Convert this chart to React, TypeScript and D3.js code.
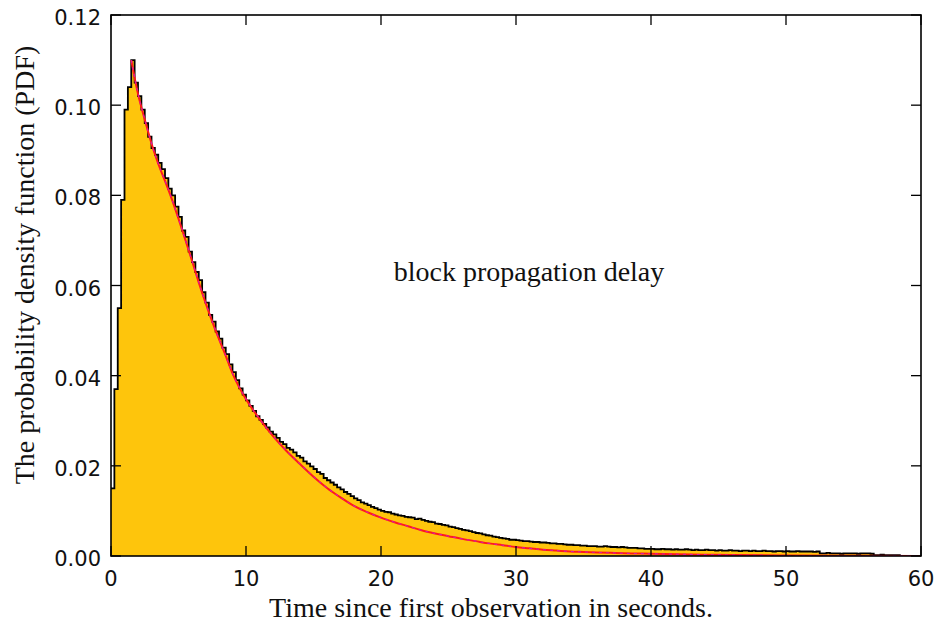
import React from "react";
import * as d3 from "d3";

// Histogram: bin width 0.25 s, starting at 0 s
const binWidth = 0.25;
const histValues: number[] = [
  0.015, 0.037, 0.055, 0.079, 0.099, 0.104, 0.110, 0.105, 0.102, 0.099,
  0.096, 0.093, 0.0905, 0.089, 0.0872, 0.0858, 0.0838, 0.0815, 0.080, 0.0775,
  0.0752, 0.0722, 0.0708, 0.0675, 0.0652, 0.063, 0.0612, 0.0585, 0.0562, 0.0535,
  0.052, 0.0498, 0.0482, 0.0462, 0.0448, 0.0425, 0.0408, 0.039, 0.0372, 0.0358,
  0.0345, 0.0333, 0.0322, 0.031, 0.0302, 0.0293, 0.0285, 0.0276, 0.027, 0.0262,
  0.0253, 0.0248, 0.024, 0.0236, 0.023, 0.0222, 0.0218, 0.021, 0.0205, 0.0199,
  0.0193, 0.0186, 0.0182, 0.0173, 0.0168, 0.0163, 0.0158, 0.0152, 0.0148, 0.0142,
  0.0138, 0.0133, 0.0128, 0.0124, 0.0119, 0.0116, 0.0113, 0.0109, 0.0106, 0.0103,
  0.0100, 0.0098, 0.0097, 0.0094, 0.0092, 0.0090, 0.0089, 0.0087, 0.0086, 0.0085,
  0.0082, 0.0083, 0.0080, 0.0078, 0.0076, 0.0075, 0.0072, 0.0071, 0.0069, 0.0068,
  0.0065, 0.0064, 0.0062, 0.0060, 0.0058, 0.0057, 0.0055, 0.0053, 0.0051, 0.0050,
  0.0048, 0.0046, 0.0045, 0.0043, 0.0042, 0.0040, 0.0039, 0.0038, 0.0036, 0.0036,
  0.0035, 0.0034, 0.0033, 0.0033, 0.0032, 0.0031, 0.0031, 0.0030, 0.0030, 0.0029,
  0.0028, 0.0028, 0.0027, 0.0027, 0.0026, 0.0025, 0.0025, 0.0024, 0.0024, 0.0023,
  0.0023, 0.0022, 0.0022, 0.0022, 0.0021, 0.0021, 0.0022, 0.0021, 0.0020, 0.0020,
  0.0019, 0.0020, 0.0019, 0.0018, 0.0018, 0.0018, 0.0017, 0.0017, 0.0016, 0.0016,
  0.0016, 0.0015, 0.0015, 0.0016, 0.0015, 0.0015, 0.0014, 0.0015, 0.0014, 0.0014,
  0.0015, 0.0014, 0.0013, 0.0014, 0.0013, 0.0013, 0.0014, 0.0013, 0.0013, 0.0012,
  0.0013, 0.0012, 0.0012, 0.0013, 0.0012, 0.0012, 0.0011, 0.0012, 0.0012, 0.0011,
  0.0012, 0.0011, 0.0011, 0.0012, 0.0011, 0.0011, 0.0010, 0.0011, 0.0011, 0.0010,
  0.0011, 0.0010, 0.0010, 0.0011, 0.0010, 0.0010, 0.0010, 0.0010, 0.0009, 0.0010,
  0.0006, 0.0006, 0.0007, 0.0006, 0.0006, 0.0006, 0.0005, 0.0006, 0.0006, 0.0006,
  0.0006, 0.0005, 0.0006, 0.0006, 0.0006, 0.0005, 0.0002, 0.0002, 0.0003, 0.0002,
  0.0002, 0.0002, 0.0002, 0.0002,
];

// Fitted curve: [seconds, density]
const fitCurve: [number, number][] = [
  [1.5, 0.110], [2.0, 0.1025], [2.5, 0.0968], [3.0, 0.0915], [3.5, 0.087],
  [4.0, 0.0832], [4.5, 0.0792], [5.0, 0.0748], [5.5, 0.0702], [6.0, 0.0655],
  [6.5, 0.0607], [7.0, 0.0562], [7.5, 0.052], [8.0, 0.0481], [8.5, 0.0444],
  [9.0, 0.0405], [9.5, 0.0374], [10.0, 0.0348], [10.5, 0.0325], [11.0, 0.0304],
  [12.0, 0.0266], [13.0, 0.0233], [14.0, 0.0204], [15.0, 0.0176], [16.0, 0.0151],
  [17.0, 0.013], [18.0, 0.0111], [19.0, 0.0097], [20.0, 0.0085], [21.0, 0.0075],
  [22.0, 0.0066], [23.0, 0.0057], [24.0, 0.005], [25.0, 0.0044], [26.0, 0.0038],
  [27.0, 0.0033], [28.0, 0.0028], [29.0, 0.0024], [30.0, 0.002], [31.0, 0.0017],
  [32.0, 0.0014], [33.0, 0.0012], [34.0, 0.001], [35.0, 0.0009], [36.0, 0.0008],
  [37.0, 0.0007], [38.0, 0.0006], [40.0, 0.0005], [42.0, 0.0004], [44.0, 0.0003],
  [46.0, 0.0002], [50.0, 0.0001], [55.0, 0.00005], [60.0, 0.00002],
];

const xTicks = [0, 10, 20, 30, 40, 50, 60];
const yTicks = [0, 0.02, 0.04, 0.06, 0.08, 0.1, 0.12];

const xLabel = "Time since first observation in seconds.";
const yLabel = "The probability density function (PDF)";
const annotation = "block propagation delay";

const W = 942;
const H = 628;
const M = { left: 111, right: 921, top: 15, bottom: 556 };

export default function App() {
  const x = d3.scaleLinear().domain([0, 60]).range([M.left, M.right]);
  const y = d3.scaleLinear().domain([0, 0.12]).range([M.bottom, M.top]);

  const stepPts: [number, number][] = [];
  histValues.forEach((v, i) => {
    const t0 = i * binWidth;
    const t1 = Math.min(60, t0 + binWidth);
    stepPts.push([x(t0), y(v)]);
    stepPts.push([x(t1), y(v)]);
  });
  const outline = d3.line()(stepPts) || "";
  const fillPath =
    `M${x(0)},${y(0)}` +
    stepPts.map((p) => `L${p[0]},${p[1]}`).join("") +
    `L${x(60)},${y(0)}Z`;

  const fitLine =
    d3
      .line<[number, number]>()
      .x((d) => x(d[0]))
      .y((d) => y(d[1]))
      .curve(d3.curveMonotoneX)(fitCurve) || "";

  const tickFont = "'DejaVu Sans', sans-serif";
  const serif = "'Liberation Serif', 'Times New Roman', serif";
  const tl = 10;

  return (
    <svg
      width={W}
      height={H}
      style={{ position: "absolute", left: 0, top: 0, background: "#fff" }}
    >
      <defs>
        <clipPath id="plotClip">
          <rect x={M.left} y={M.top} width={M.right - M.left} height={M.bottom - M.top} />
        </clipPath>
      </defs>
      <g clipPath="url(#plotClip)">
        <path d={fillPath} fill="#FEC50C" stroke="none" />
        <path d={outline} fill="none" stroke="#000" strokeWidth={1.8} strokeLinejoin="miter" />
        <path d={fitLine} fill="none" stroke="#ff1a1a" strokeWidth={2} />
        <path d={fitLine} fill="none" stroke="#d81ba8" strokeWidth={1.1} strokeDasharray="3 4" />
      </g>

      {/* ticks */}
      {xTicks.map((t) => (
        <g key={"x" + t}>
          <line x1={x(t)} x2={x(t)} y1={M.bottom} y2={M.bottom - tl} stroke="#000" strokeWidth={1.3} />
          <line x1={x(t)} x2={x(t)} y1={M.top} y2={M.top + tl} stroke="#000" strokeWidth={1.3} />
          <text
            x={x(t)}
            y={586}
            textAnchor="middle"
            fontFamily={tickFont}
            fontSize={21}
            fill="#111"
          >
            {t}
          </text>
        </g>
      ))}
      {yTicks.map((t) => (
        <g key={"y" + t}>
          <line x1={M.left} x2={M.left + tl} y1={y(t)} y2={y(t)} stroke="#000" strokeWidth={1.3} />
          <line x1={M.right} x2={M.right - tl} y1={y(t)} y2={y(t)} stroke="#000" strokeWidth={1.3} />
          <text
            x={101}
            y={y(t) + 10}
            textAnchor="end"
            fontFamily={tickFont}
            fontSize={21}
            fill="#111"
          >
            {t.toFixed(2)}
          </text>
        </g>
      ))}

      <rect
        x={M.left}
        y={M.top}
        width={M.right - M.left}
        height={M.bottom - M.top}
        fill="none"
        stroke="#000"
        strokeWidth={1.6}
      />

      <text
        x={491}
        y={617}
        textAnchor="middle"
        fontFamily={serif}
        fontSize={28}
        fill="#111"
      >
        {xLabel}
      </text>
      <text
        transform={`translate(34, ${265}) rotate(-90)`}
        textAnchor="middle"
        fontFamily={serif}
        fontSize={28}
        fill="#111"
      >
        {yLabel}
      </text>
      <text
        x={529}
        y={281}
        textAnchor="middle"
        fontFamily={serif}
        fontSize={28}
        fill="#111"
      >
        {annotation}
      </text>
    </svg>
  );
}
